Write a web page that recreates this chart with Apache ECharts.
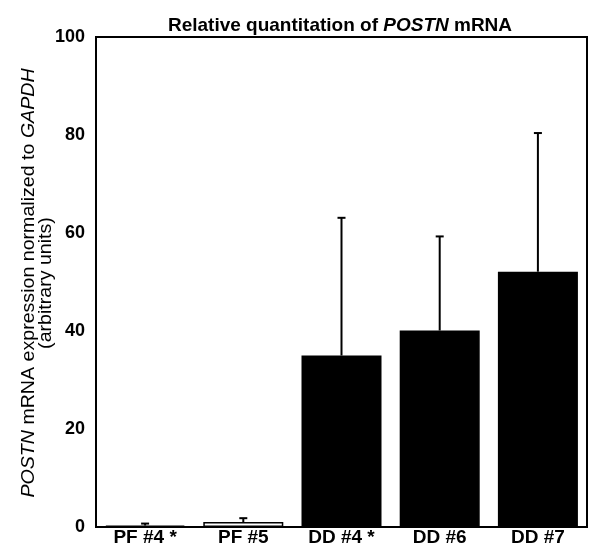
<!DOCTYPE html>
<html>
<head>
<meta charset="utf-8">
<script src="https://cdn.jsdelivr.net/npm/echarts@6/dist/echarts.min.js"></script>
<style>
html,body{margin:0;padding:0;background:#fff;}
#c{width:589px;height:552px;}
</style>
</head>
<body>
<div id="c"></div>
<script>
const categories = ['PF #4 *', 'PF #5', 'DD #4 *', 'DD #6', 'DD #7'];
const means = [0.3, 1.0, 35.0, 40.1, 52.1];
const errors = [0.4, 0.8, 28.1, 19.2, 28.3];
const barColors = ['#000000', '#ffffff', '#000000', '#000000', '#000000'];
const yTicks = [0, 20, 40, 60, 80, 100];
const yAxisTitle = '{i|POSTN} mRNA expression normalized to {i|GAPDH}\n(arbitrary units)';

const FONT = '"Liberation Sans", Arial, sans-serif';
const chart = echarts.init(document.getElementById('c'), null, {renderer: 'canvas'});

chart.setOption({
  animation: false,
  backgroundColor: '#fff',
  title: {
    text: 'Relative quantitation of {i|POSTN} mRNA',
    left: 335,
    top: 11,
    textAlign: 'center',
    textStyle: {
      fontFamily: FONT, fontSize: 19, fontWeight: 'bold', color: '#000',
      rich: { i: { fontFamily: FONT, fontSize: 19, fontWeight: 'bold', fontStyle: 'italic', color: '#000' } }
    }
  },
  grid: {
    left: 96, right: 2, top: 37, bottom: 25,
    show: true, borderColor: '#000', borderWidth: 2, backgroundColor: 'transparent'
  },
  graphic: [{
    type: 'text',
    x: 38,
    y: 283,
    rotation: Math.PI / 2,
    scaleX: 1.12,
    style: {
      text: yAxisTitle,
      fontFamily: FONT, fontSize: 17.5, fill: '#000',
      align: 'center', verticalAlign: 'middle', lineHeight: 17,
      rich: { i: { fontFamily: FONT, fontSize: 17.5, fontStyle: 'italic', fill: '#000', lineHeight: 17 } }
    }
  }],
  xAxis: {
    type: 'category',
    data: categories,
    axisLine: { show: true, lineStyle: { color: '#000', width: 2 } },
    axisTick: { show: false },
    axisLabel: { fontFamily: FONT, fontSize: 19, fontWeight: 'bold', color: '#000', margin: 1, interval: 0 }
  },
  yAxis: {
    type: 'value',
    min: yTicks[0], max: yTicks[yTicks.length - 1], interval: 20,
    splitLine: { show: false },
    axisLine: { show: true, lineStyle: { color: '#000', width: 2 } },
    axisTick: { show: false },
    axisLabel: { fontFamily: FONT, fontSize: 18, fontWeight: 'bold', color: '#000', margin: 11 }
  },
  series: [
    {
      type: 'bar',
      data: means.map((v, i) => ({ value: v, itemStyle: { color: barColors[i] } })),
      barWidth: 80,
      itemStyle: { borderColor: '#000', borderWidth: 1.5 },
      z: 2
    },
    {
      type: 'custom',
      data: means.map((v, i) => [i, v, v + errors[i]]),
      z: 3,
      renderItem: function (params, api) {
        const x = api.value(0);
        const p0 = api.coord([x, api.value(1)]);
        const p1 = api.coord([x, api.value(2)]);
        const half = 4;
        return {
          type: 'group',
          children: [
            { type: 'line', shape: { x1: p0[0], y1: p0[1], x2: p1[0], y2: p1[1] }, style: { stroke: '#000', lineWidth: 2 } },
            { type: 'line', shape: { x1: p1[0] - half, y1: p1[1], x2: p1[0] + half, y2: p1[1] }, style: { stroke: '#000', lineWidth: 2 } }
          ]
        };
      }
    }
  ]
});
</script>
</body>
</html>
